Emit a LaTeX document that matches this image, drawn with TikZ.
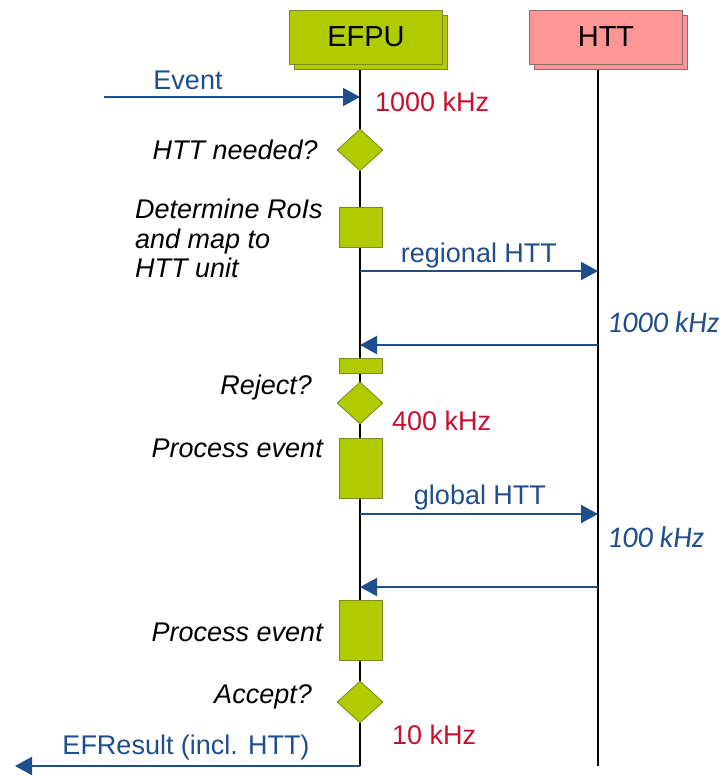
\documentclass[tikz,border=0pt]{standalone}
\usepackage{fontspec}
\setmainfont{Liberation Sans}
\newfontfamily\ratefont{Carlito}
\usetikzlibrary{shapes.geometric,arrows.meta}
\definecolor{actgreen}{HTML}{B0CC00}
\definecolor{actedge}{HTML}{7A8A20}
\definecolor{httpink}{HTML}{FF9696}
\definecolor{pinkedge}{HTML}{8A6A6A}
\definecolor{msgblue}{HTML}{1F4E8C}
\definecolor{raterred}{HTML}{C8102E}
\tikzset{
  header/.style={draw=#1, line width=0.8pt, minimum width=153pt, minimum height=54pt, inner sep=0pt, font=\fontsize{29}{33}\selectfont},
  activity/.style={draw=actedge, fill=actgreen, line width=0.8pt, minimum width=43pt, inner sep=0pt},
  decision/.style={draw=actedge, fill=actgreen, line width=0.8pt, diamond, minimum width=46pt, minimum height=42pt, inner sep=0pt, aspect=1.1},
  lifeline/.style={line width=2pt, black},
  msg/.style={line width=2.2pt, msgblue, -{Triangle[length=17pt, width=18pt]}},
  note/.style={font=\fontsize{27}{29.5}\selectfont\itshape, inner sep=0pt},
  msglabel/.style={font=\fontsize{27}{30}\selectfont, text=msgblue, inner sep=0pt},
  rate/.style={font=\fontsize{27}{30}\selectfont, text=raterred, inner sep=0pt, anchor=west},
  httrate/.style={font=\ratefont\fontsize{30}{34}\selectfont\itshape, text=msgblue, inner sep=0pt, anchor=west},
}
\begin{document}
\begin{tikzpicture}[x=1pt, y=-1pt]
\useasboundingbox (0,0) rectangle (726,776);

% lifeline headers with stacked shadow boxes
\node[header=actedge, fill=actgreen] (efpuback) at (371,42) {};
\node[header=actedge, fill=actgreen] (efpu) at (366,37) {EFPU};
\node[header=pinkedge, fill=httpink] (httback) at (611,42) {};
\node[header=pinkedge, fill=httpink] (htt) at (606,37) {HTT};

% lifeline ends
\coordinate (efpuTop) at (360,70);
\coordinate (efpuEnd) at (360,766);
\coordinate (httTop) at (598,70);
\coordinate (httEnd) at (598,766);
\draw[lifeline] (efpuTop) -- (efpuEnd);
\draw[lifeline] (httTop) -- (httEnd);

% activities and decisions on the EFPU lifeline
\node[decision] (needed) at (360,150) {};
\node[activity, minimum height=40pt] (determine) at (361,227) {};
\node[activity, minimum height=15pt] (merge) at (361,366) {};
\node[decision] (reject) at (360,403) {};
\node[activity, minimum height=60pt] (process1) at (361,468) {};
\node[activity, minimum height=60pt] (process2) at (361,630) {};
\node[decision] (accept) at (360,702) {};

% message anchor points
\coordinate (evIn) at (104,97);
\coordinate (evEfpu) at (360,97);
\coordinate (regOut) at (360,271);
\coordinate (regIn) at (598,271);
\coordinate (regBack) at (598,345);
\coordinate (regRet) at (360,345);
\coordinate (globOut) at (360,514);
\coordinate (globIn) at (598,514);
\coordinate (globBack) at (598,587);
\coordinate (globRet) at (360,587);
\coordinate (resOut) at (15,766);

% messages
\draw[msg] (evIn) -- (evEfpu);
\draw[msg] (regOut) -- (regIn);
\draw[msg] (regBack) -- (regRet);
\draw[msg] (globOut) -- (globIn);
\draw[msg] (globBack) -- (globRet);
\draw[msg] (efpuEnd) -- (resOut);

% message labels
\node[msglabel] (evLbl) at (188,80) {Event};
\node[msglabel] (regLbl) at (479,256) {regional HTT};
\node[msglabel] (globLbl) at (480,498) {global HTT};
\node[msglabel] (resLbl) at (186,748) {EFResult (incl. HTT)};

% step descriptions
\node[note, anchor=east] (neededLbl) at (318,150) {HTT needed?};
\node[note, align=left, anchor=north west] (detLbl) at (135,199) {Determine RoIs\\and map to\\HTT unit};
\node[note, anchor=east] (rejectLbl) at (312,388) {Reject?};
\node[note, anchor=east] (proc1Lbl) at (323,448) {Process event};
\node[note, anchor=east] (proc2Lbl) at (323,632) {Process event};
\node[note, anchor=east] (acceptLbl) at (312,697) {Accept?};

% rates
\node[rate] (r1000) at (375,102) {1000 kHz};
\node[rate] (r400) at (392,421) {400 kHz};
\node[rate] (r10) at (392,735) {10 kHz};
\node[httrate] (h1000) at (607,322) {1000 kHz};
\node[httrate] (h100) at (607,537) {100 kHz};
\end{tikzpicture}
\end{document}
